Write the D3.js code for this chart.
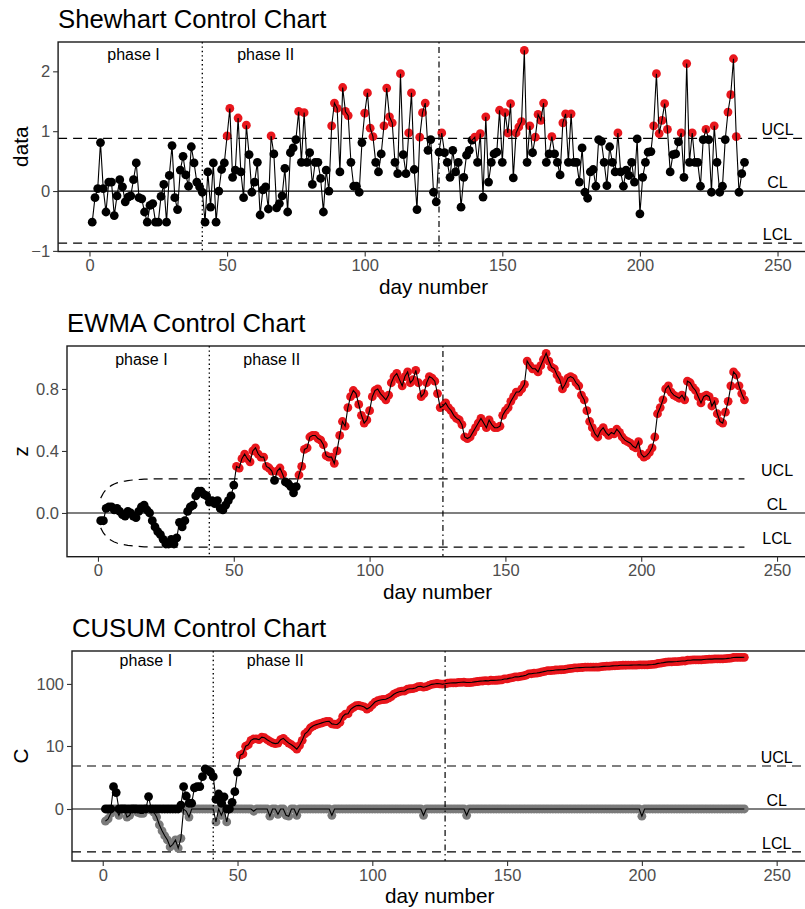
<!DOCTYPE html>
<html>
<head>
<meta charset="utf-8">
<script src="https://cdn.jsdelivr.net/npm/d3@7"></script>
<style>
  body { margin: 0; background: #fff; }
  svg { display: block; }
  text { font-family: "Liberation Sans", Arial, Helvetica, sans-serif; }
</style>
</head>
<body>
<svg id="chart" width="805" height="909"></svg>
<script>
// ---- data -----------------------------------------------------------------
const days = d3.range(1, 239);

// daily measurements
const shewhartData = [
  -0.52,-0.11,0.04,0.81,0.04,-0.35,0.15,0.15,-0.41,-0.08,
  0.19,0.07,-0.18,-0.10,-0.08,0.19,0.47,-0.11,-0.13,-0.35,
  -0.52,-0.24,-0.21,-0.52,-0.52,-0.09,0.11,-0.52,0.26,0.76,
  -0.11,-0.31,0.35,0.58,0.27,0.08,0.74,0.47,0.15,0.07,
  -0.02,-0.52,0.32,-0.27,0.47,-0.52,0.00,0.36,0.47,0.92,
  1.38,0.23,0.35,1.22,0.32,-0.11,1.10,0.61,-0.02,0.15,
  0.48,-0.40,0.02,0.07,-0.30,0.92,0.62,-0.28,-0.21,-0.08,
  0.38,-0.35,0.64,0.72,0.86,1.33,0.48,1.31,0.48,0.64,
  0.11,0.48,0.48,0.21,-0.35,0.35,0.00,1.09,1.47,1.38,
  0.32,1.73,1.33,1.26,0.48,0.08,0.08,-0.02,0.81,1.30,
  1.64,1.05,0.91,0.48,0.32,0.62,1.09,1.72,1.24,1.14,
  0.48,0.29,1.96,0.61,0.29,0.97,1.64,0.36,-0.31,0.90,
  1.31,1.47,0.68,0.86,-0.02,-0.18,0.65,0.97,0.64,0.48,
  0.23,0.68,0.32,0.48,-0.27,0.23,0.60,0.68,0.85,0.90,
  0.48,0.96,-0.10,1.24,0.15,0.48,0.62,0.65,1.35,0.48,
  1.31,0.97,1.46,0.22,0.97,1.07,1.16,2.35,0.48,1.09,
  0.64,0.90,1.28,1.18,1.47,0.48,0.62,0.91,0.62,0.48,
  0.27,1.14,1.29,0.48,1.29,0.48,0.48,0.15,0.72,-0.02,
  -0.12,0.32,0.36,0.08,0.86,0.83,0.48,0.09,0.74,0.48,
  0.32,0.97,0.32,0.08,0.35,0.26,0.48,0.15,0.87,-0.38,
  0.23,0.48,0.65,0.66,1.09,1.96,0.96,1.18,1.46,1.03,
  0.32,0.61,0.62,0.82,0.97,0.23,2.13,0.48,0.97,0.48,
  0.48,0.08,0.86,1.03,0.86,-0.02,1.09,0.48,-0.02,0.08,
  0.86,1.32,1.61,2.21,0.91,-0.02,0.29,0.48
];
const shewhartLimits = { ucl: 0.88, cl: 0, lcl: -0.87 };

// exponentially weighted moving average z
const ewmaData = [
  -0.05,-0.05,0.03,0.04,0.04,0.02,0.03,0.01,-0.01,-0.02,
  0.01,0.00,-0.02,-0.03,0.01,0.04,0.05,0.02,0.00,-0.05,
  -0.09,-0.12,-0.14,-0.17,-0.20,-0.20,-0.17,-0.20,-0.16,-0.06,
  -0.09,-0.05,0.01,0.04,0.05,0.11,0.14,0.14,0.12,0.11,
  0.07,0.08,0.06,0.08,0.03,0.02,0.05,0.08,0.11,0.18,
  0.30,0.29,0.35,0.38,0.35,0.33,0.40,0.42,0.38,0.36,
  0.36,0.30,0.29,0.27,0.21,0.27,0.29,0.25,0.20,0.19,
  0.17,0.13,0.17,0.245,0.30,0.41,0.42,0.49,0.50,0.50,
  0.48,0.47,0.44,0.37,0.36,0.36,0.32,0.40,0.50,0.59,
  0.56,0.68,0.75,0.79,0.77,0.70,0.63,0.58,0.60,0.66,
  0.75,0.79,0.80,0.77,0.75,0.73,0.76,0.84,0.88,0.90,
  0.86,0.82,0.88,0.91,0.84,0.86,0.92,0.84,0.75,0.77,
  0.84,0.88,0.87,0.85,0.77,0.68,0.69,0.71,0.68,0.66,
  0.63,0.61,0.60,0.57,0.49,0.48,0.49,0.52,0.55,0.58,
  0.61,0.58,0.55,0.60,0.57,0.55,0.55,0.56,0.63,0.66,
  0.68,0.72,0.75,0.78,0.78,0.80,0.83,0.98,0.95,0.93,
  0.93,0.91,0.95,0.99,1.03,0.98,0.94,0.93,0.89,0.86,
  0.80,0.83,0.87,0.88,0.87,0.84,0.82,0.76,0.73,0.66,
  0.59,0.55,0.51,0.49,0.53,0.55,0.52,0.50,0.52,0.51,
  0.54,0.52,0.49,0.47,0.46,0.45,0.43,0.42,0.46,0.38,
  0.36,0.37,0.39,0.42,0.49,0.64,0.68,0.73,0.80,0.82,
  0.78,0.76,0.75,0.74,0.76,0.73,0.85,0.84,0.81,0.79,
  0.75,0.71,0.75,0.76,0.75,0.69,0.72,0.64,0.59,0.58,
  0.65,0.72,0.82,0.91,0.89,0.82,0.77,0.73
];
// half-width of the EWMA limits: widening start-up values, then steady state
const ewmaLimitStartup = [0.096,0.129,0.151,0.166,0.178,0.187,0.194,0.199,0.203,0.206,
                          0.209,0.211,0.213,0.215,0.216,0.217,0.218,0.218,0.219,0.219];
const ewmaLimitSteady = 0.22;

// upper (C+) and lower (C-) cumulative sums
const cusumUpper = [
  0,0,0,1.45,0.95,0,0,0,0,0,
  0,0,0,0,0,0,0.66,0,0,0,
  0,0,0,0,0,0,0,0,0.18,1.45,
  0.70,0.27,0.27,1.33,1.45,1.45,2.57,3.78,3.51,3.25,
  2.57,0.49,0.84,0.27,0.65,0,0,0.32,1.02,3.25,
  6.9,7.3,9.9,10.5,12.5,13.2,13.2,12.8,14.1,13.8,
  12.8,12.0,11.3,11.0,11.2,12.8,13.5,12.2,11.2,10.5,
  9.7,8.8,10.2,12.5,16.0,17.5,20.0,21.5,22.5,23.3,
  24.0,24.8,25.5,25.7,23.3,23.0,22.8,24.8,30.5,33.5,
  34.0,40.0,43.0,45.5,46.0,45.0,43.5,40.3,42.5,47.0,
  52.0,54.5,56.0,57.0,57.5,60.0,63.5,69.0,72.5,75.5,
  77.0,77.5,82.5,84.0,84.5,86.5,91.0,91.5,89.0,91.0,
  94.5,98.5,100.0,101.5,100.5,99.0,100.5,102.5,103.5,104.0,
  104.0,105.5,106.0,106.5,105.0,105.0,106.0,107.5,109.0,110.5,
  111.0,112.5,111.5,114.0,113.5,114.0,115.0,116.0,119.5,120.0,
  123.0,125.0,129.0,128.5,131.0,133.5,136.5,143.5,144.0,146.5,
  147.5,150.0,153.5,156.5,160.5,161.0,162.0,164.5,165.5,166.0,
  167,169.5,173,174,177,178,179,180,182,182,
  182,182.5,183,183,185.5,187.5,188.5,188.5,190.5,191.5,
  192,194.5,195,195,195.5,196,196.5,196.5,198,197,
  197,197.5,199,200.5,203,208.5,211,214,218,220,
  220,221.5,222.5,224.5,227,227,233,233.5,236,236.5,
  237,236.5,239,241,243,242.5,245,245.5,245,244.5,
  246.5,249,252,257,259,258.5,258.5,259
];
const cusumLower = [
  -0.65,-0.5,-0.2,0,0,-0.3,0,0,-0.4,-0.3,
  0,0,-0.15,-0.2,-0.2,0,0,-0.05,-0.15,-0.4,
  -0.9,-1.4,-1.9,-2.4,-3.4,-3.0,-2.4,-3.6,-2.2,0,
  -0.1,-0.4,0,0,0,0,0,0,0,0,
  0,-0.7,0,-0.3,0,-0.7,0,0,0,0,
  0,0,0,0,0,-0.1,0,0,0,0,
  0,-0.35,0,0,-0.25,0,0,-0.3,-0.35,0,
  0,-0.3,0,0,0,0,0,0,0,0,
  0,0,0,0,-0.3,0,0,0,0,0,
  0,0,0,0,0,0,0,0,0,0,
  0,0,0,0,0,0,0,0,0,0,
  0,0,0,0,0,0,0,0,-0.3,0,
  0,0,0,0,0,0,0,0,0,0,
  0,0,0,0,-0.3,0,0,0,0,0,
  0,0,0,0,0,0,0,0,0,0,
  0,0,0,0,0,0,0,0,0,0,
  0,0,0,0,0,0,0,0,0,0,
  0,0,0,0,0,0,0,0,0,0,
  0,0,0,0,0,0,0,0,0,0,
  0,0,0,0,0,0,0,0,0,-0.35,
  0,0,0,0,0,0,0,0,0,0,
  0,0,0,0,0,0,0,0,0,0,
  0,0,0,0,0,0,0,0,0,0,
  0,0,0,0,0,0,0,0
];
const cusumLimits = { ucl: 4.31, cl: 0, lcl: -4.31 };

// phase boundaries and label positions (day number)
const phaseOneEnd = 41;
const shiftDay = 127;
const phaseLabels = [{ text: "phase I", day: 16 }, { text: "phase II", day: 64 }];

// tick values
const dayTicks = [0, 50, 100, 150, 200, 250];
const shewhartTicks = [-1, 0, 1, 2];
const ewmaTicks = [0, 0.4, 0.8];
const cusumTicks = [0, 10, 100];

[["shewhartData", shewhartData], ["ewmaData", ewmaData], ["cusumUpper", cusumUpper], ["cusumLower", cusumLower]]
  .forEach(([n, a]) => { if (a.length !== days.length) throw new Error(n + " has " + a.length); });

// ---- drawing --------------------------------------------------------------
const svg = d3.select("#chart");
const RED = "#e8161c";
const GREY = "#7a7a7a";
const R = 4.4;
const xDomain = [-11.4, 261.4];
const DASH = "9,6";

function styleAxis(sel) {
  sel.select(".domain").remove();
  sel.selectAll(".tick line").attr("stroke", "#333").attr("stroke-width", 1.1);
  sel.selectAll(".tick text")
    .attr("fill", "#4d4d4d")
    .style("font-size", "16.5px")
    .style("font-family", '"Liberation Sans", Arial, sans-serif');
}

function drawPanel(cfg) {
  const { id, left, right, top, bottom, y } = cfg;
  const x = d3.scaleLinear().domain(xDomain).range([left, right]);
  const g = svg.append("g").attr("class", "panel-" + id);

  g.append("clipPath").attr("id", "clip-" + id)
    .append("rect").attr("x", left).attr("y", top)
    .attr("width", right - left).attr("height", bottom - top);
  const plot = g.append("g").attr("clip-path", `url(#clip-${id})`);

  const hline = (v, dash) => plot.append("line")
    .attr("x1", left).attr("x2", right).attr("y1", y(v)).attr("y2", y(v))
    .attr("stroke", "#000").attr("stroke-width", 1.2)
    .attr("stroke-dasharray", dash || null);

  cfg.draw(plot, x, y, hline);

  // phase boundary and shift day
  plot.append("line")
    .attr("x1", x(phaseOneEnd)).attr("x2", x(phaseOneEnd)).attr("y1", top).attr("y2", bottom)
    .attr("stroke", "#000").attr("stroke-width", 1.4).attr("stroke-dasharray", "1.4,3");
  plot.append("line")
    .attr("x1", x(shiftDay)).attr("x2", x(shiftDay)).attr("y1", top).attr("y2", bottom)
    .attr("stroke", "#000").attr("stroke-width", 1.2).attr("stroke-dasharray", "1.5,3.5,6,3.5");

  // phase labels
  g.selectAll("text.phase").data(phaseLabels).join("text")
    .attr("class", "phase")
    .attr("x", d => x(d.day)).attr("y", top + cfg.phaseOffset)
    .attr("text-anchor", "middle").style("font-size", "16px").attr("fill", "#000")
    .text(d => d.text);

  // limit labels on the right
  g.selectAll("text.lim").data(cfg.limitLabels).join("text")
    .attr("class", "lim")
    .attr("x", x(250)).attr("y", d => y(d.value) - 3)
    .attr("text-anchor", "middle").style("font-size", "16px").attr("fill", "#000")
    .text(d => d.text);

  // panel border
  g.append("rect").attr("x", left).attr("y", top)
    .attr("width", right - left).attr("height", bottom - top)
    .attr("fill", "none").attr("stroke", "#1a1a1a").attr("stroke-width", 1.4);

  // axes
  g.append("g").attr("transform", `translate(0,${bottom})`)
    .call(d3.axisBottom(x).tickValues(dayTicks).tickSize(5).tickPadding(3))
    .call(styleAxis);
  g.append("g").attr("transform", `translate(${left},0)`)
    .call(d3.axisLeft(y).tickValues(cfg.yTicks).tickFormat(cfg.yFormat).tickSize(5).tickPadding(3))
    .call(styleAxis);

  // titles
  g.append("text").attr("x", left).attr("y", top - 14.5)
    .style("font-size", "25.7px").attr("fill", "#000").text(cfg.title);
  g.append("text").attr("x", (left + right) / 2).attr("y", bottom + 42)
    .attr("text-anchor", "middle").style("font-size", "20.7px").attr("fill", "#000")
    .text("day number");
  g.append("text")
    .attr("transform", `translate(28,${(top + bottom) / 2}) rotate(-90)`)
    .attr("text-anchor", "middle").style("font-size", "20.7px").attr("fill", "#000")
    .text(cfg.yLabel);
}

function drawSeries(plot, x, y, values, colorOf) {
  plot.append("g").selectAll("circle").data(values).join("circle")
    .attr("cx", (d, i) => x(days[i])).attr("cy", d => y(d))
    .attr("r", R).attr("fill", colorOf);
  plot.append("path").datum(values)
    .attr("d", d3.line().x((d, i) => x(days[i])).y(d => y(d)))
    .attr("fill", "none").attr("stroke", "#000").attr("stroke-width", 1.1);
}

// Shewhart chart
drawPanel({
  id: "shewhart", title: "Shewhart Control Chart", yLabel: "data",
  left: 58.1, right: 808.9, top: 42, bottom: 251.5,
  y: d3.scaleLinear().domain([-1.01, 2.49]).range([251.5, 42]),
  yTicks: shewhartTicks, yFormat: d3.format("d"),
  phaseOffset: 18,
  limitLabels: [
    { text: "UCL", value: shewhartLimits.ucl },
    { text: "CL", value: shewhartLimits.cl },
    { text: "LCL", value: shewhartLimits.lcl }
  ],
  draw(plot, x, y, hline) {
    hline(shewhartLimits.ucl, DASH);
    hline(shewhartLimits.cl);
    hline(shewhartLimits.lcl, DASH);
    drawSeries(plot, x, y, shewhartData, d => d > shewhartLimits.ucl ? RED : "#000");
  }
});

// EWMA chart
const ewmaLimit = days.map((d, i) => i < ewmaLimitStartup.length ? ewmaLimitStartup[i] : ewmaLimitSteady);
drawPanel({
  id: "ewma", title: "EWMA Control Chart", yLabel: "z",
  left: 67, right: 808, top: 346, bottom: 556.7,
  y: d3.scaleLinear().domain([-0.282, 1.077]).range([556.7, 346]),
  yTicks: ewmaTicks, yFormat: d3.format(".1f"),
  phaseOffset: 18.5,
  limitLabels: [
    { text: "UCL", value: ewmaLimitSteady },
    { text: "CL", value: 0 },
    { text: "LCL", value: -ewmaLimitSteady }
  ],
  draw(plot, x, y, hline) {
    hline(0);
    const limitLine = sign => d3.line().x((d, i) => x(days[i])).y(d => y(sign * d));
    [1, -1].forEach(s => plot.append("path").datum(ewmaLimit)
      .attr("d", limitLine(s)).attr("fill", "none")
      .attr("stroke", "#000").attr("stroke-width", 1.2).attr("stroke-dasharray", DASH));
    drawSeries(plot, x, y, ewmaData, (d, i) => d > ewmaLimit[i] ? RED : "#000");
  }
});

// CUSUM chart
drawPanel({
  id: "cusum", title: "CUSUM Control Chart", yLabel: "C",
  left: 72, right: 807.4, top: 651, bottom: 861,
  y: d3.scaleSymlog().constant(1.2).domain([-6.39, 324]).range([861, 651]),
  yTicks: cusumTicks, yFormat: d3.format("d"),
  phaseOffset: 15,
  limitLabels: [
    { text: "UCL", value: cusumLimits.ucl },
    { text: "CL", value: cusumLimits.cl },
    { text: "LCL", value: cusumLimits.lcl }
  ],
  draw(plot, x, y, hline) {
    hline(cusumLimits.ucl, DASH);
    hline(cusumLimits.cl);
    hline(cusumLimits.lcl, DASH);
    drawSeries(plot, x, y, cusumLower, () => GREY);
    drawSeries(plot, x, y, cusumUpper, d => d > cusumLimits.ucl ? RED : "#000");
  }
});
</script>
</body>
</html>
